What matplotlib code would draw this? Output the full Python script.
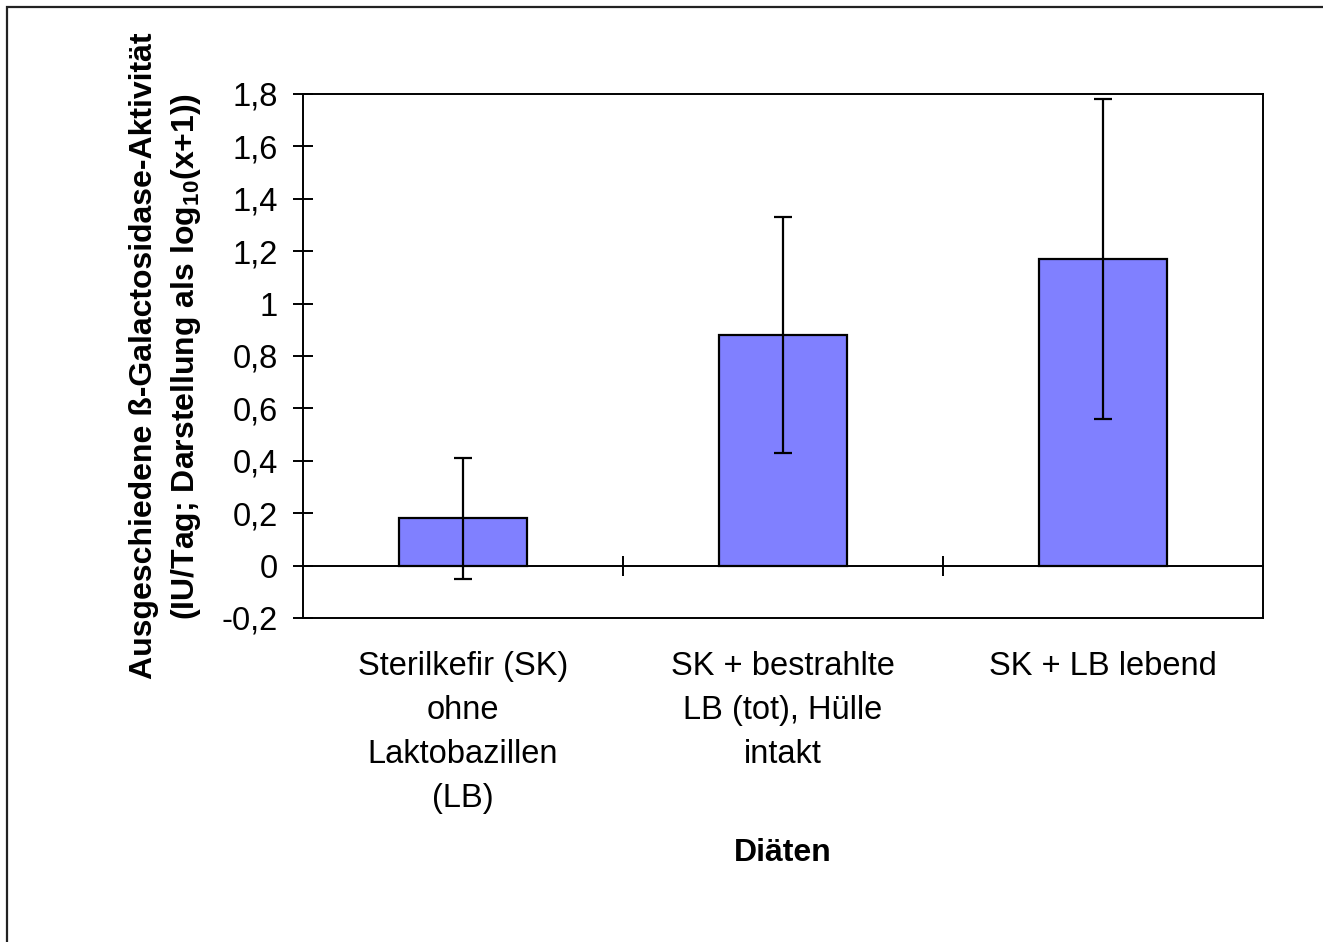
import numpy as np
import matplotlib
matplotlib.use("Agg")
import matplotlib.pyplot as plt
from matplotlib.patches import Rectangle

# Daten
categories = ["Sterilkefir (SK)\nohne\nLaktobazillen\n(LB)",
              "SK + bestrahlte\nLB (tot), Hülle\nintakt",
              "SK + LB lebend"]
means = [0.18, 0.88, 1.17]
errors = [0.23, 0.45, 0.61]
y_ticks = [-0.2, 0, 0.2, 0.4, 0.6, 0.8, 1.0, 1.2, 1.4, 1.6, 1.8]

plt.rcParams['font.family'] = ['Liberation Sans', 'DejaVu Sans']
plt.rcParams['mathtext.fontset'] = 'custom'
plt.rcParams['mathtext.rm'] = 'Liberation Sans:bold'
plt.rcParams['mathtext.bf'] = 'Liberation Sans:bold'

fig = plt.figure(figsize=(13.23, 9.42), dpi=100)
ax = fig.add_axes([303 / 1323, 1 - 618 / 942, 960 / 1323, 524 / 942])

x = np.arange(len(categories))
ax.bar(x, means, width=0.4, color='#8080FF', edgecolor='black', linewidth=1.6, zorder=2)
ax.errorbar(x, means, yerr=errors, fmt='none', ecolor='black', elinewidth=1.6,
            capsize=6.5, capthick=1.6, zorder=3)

ax.set_xlim(-0.5, len(categories) - 0.5)
ax.set_ylim(y_ticks[0], y_ticks[-1])
ax.set_yticks(y_ticks)
ax.set_yticklabels([f"{v:g}".replace('.', ',') for v in y_ticks])
ax.tick_params(axis='y', direction='inout', length=14.4, width=1.4, pad=11,
               labelsize=23.5, colors='black')

# Kategorienbeschriftung unten, ohne Striche
ax.set_xticks(x)
ax.set_xticklabels(categories, linespacing=1.54)
ax.tick_params(axis='x', length=0, pad=24, labelsize=23.5)

# Rubrikenachse bei y = 0 mit Strichen zwischen den Kategorien
sec = ax.secondary_xaxis(0, transform=ax.transData)
sec.set_xticks(x[:-1] + 0.5)
sec.set_xticklabels([])
sec.tick_params(direction='inout', length=14.4, width=1.4)
sec.spines['bottom'].set_linewidth(1.4)

for s in ax.spines.values():
    s.set_linewidth(1.4)
    s.set_color('black')

ax.set_xlabel("Diäten", fontsize=23, fontweight='bold', labelpad=17)

fig.text(166 / 1323, 1 - 356 / 942,
         "Ausgeschiedene ß-Galactosidase-Aktivität\n"
         r"(IU/Tag; Darstellung als log$_{\mathbf{10}}$(x+1))",
         rotation=90, ha='center', va='center', multialignment='center',
         fontsize=23, fontweight='bold', linespacing=1.42)

# Rahmen um das Diagramm (läuft rechts und unten aus dem Bild)
fig.add_artist(Rectangle((7 / 1323, -0.1), 1.2, 1 - 7 / 942 + 0.1,
                         transform=fig.transFigure, fill=False,
                         edgecolor='#222222', linewidth=1.6))

fig.savefig("out.png", dpi=100)
